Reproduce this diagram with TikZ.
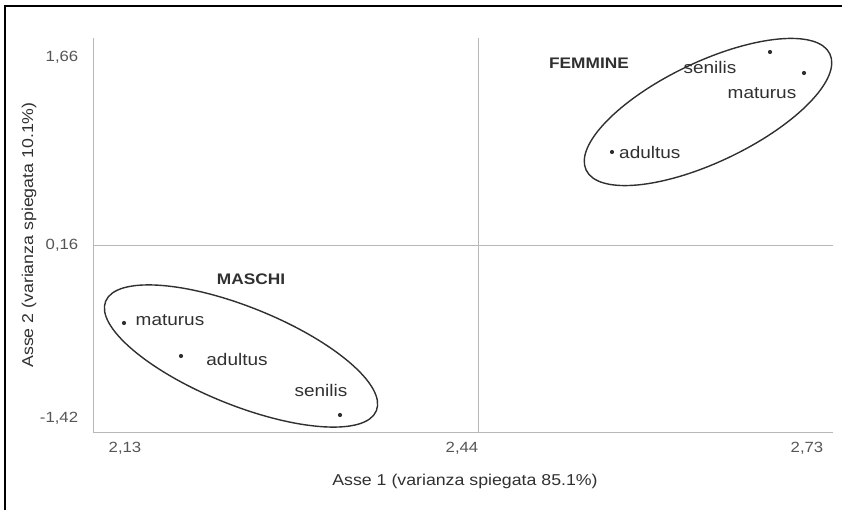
\documentclass[tikz,border=0pt]{standalone}
\usepackage{fontspec}
\setmainfont[FakeStretch=1.13]{Liberation Sans}
\usetikzlibrary{shapes.geometric}
\definecolor{axisgray}{HTML}{B8B8B8}
\definecolor{inkgray}{HTML}{303030}
\definecolor{tickgray}{HTML}{555555}
\begin{document}
\begin{tikzpicture}[x=1pt,y=-1pt,
  axisline/.style={draw=axisgray,line width=1pt},
  grp/.style={draw=inkgray,line width=1.4pt},
  lab/.style={text=inkgray,font=\fontsize{16.8}{19}\selectfont,inner sep=0pt},
  grplab/.style={text=inkgray,font=\fontsize{15.3}{18}\selectfont\bfseries,inner sep=0pt},
  tick/.style={text=tickgray,font=\fontsize{14.8}{17}\selectfont,inner sep=0pt},
  ttl/.style={text=inkgray,font=\fontsize{15.7}{18}\selectfont,inner sep=0pt},
  pt/.style={circle,fill=inkgray,inner sep=0pt,minimum size=4.2pt}]
\useasboundingbox (0,0) rectangle (842,510);
% frame
\draw[line width=1.3pt,black] (842,6) -- (5,6) -- (5,510);
% axes and grid
\coordinate (yt) at (93,38);
\coordinate (yb) at (93,432);
\coordinate (xr) at (833,432);
\coordinate (gt) at (478,38);
\coordinate (gb) at (478,432);
\coordinate (hl) at (93,246);
\coordinate (hr) at (833,246);
\draw[axisline] (yt) -- (yb) -- (xr);
\draw[axisline] (gt) -- (gb);
\draw[axisline] (hl) -- (hr);
% tick labels
\node[tick] (t166) at (62,57) {1,66};
\node[tick] (t016) at (62,245) {0,16};
\node[tick] (t142) at (59,418) {-1,42};
\node[tick] (t213) at (125,448) {2,13};
\node[tick] (t244) at (462,448) {2,44};
\node[tick] (t273) at (807,448) {2,73};
% axis titles
\node[ttl] (xt) at (465,481) {Asse 1 (varianza spiegata 85.1\%)};
\node[ttl,rotate=90] (yttl) at (29,235) {Asse 2 (varianza spiegata 10.1\%)};
% FEMMINE group
\node[grp,ellipse,rotate=25.5,minimum width=270pt,minimum height=100pt] (ef) at (708,112) {};
\node[grplab] (fem) at (589,63) {FEMMINE};
\node[pt] (fs) at (770,52) {};
\node[pt] (fm) at (804,73) {};
\node[pt] (fa) at (612,152) {};
\node[lab] (fsl) at (710,67) {senilis};
\node[lab] (fml) at (762,93) {maturus};
\node[lab,anchor=west] (fal) at (619,152) {adultus};
% MASCHI group
\node[grp,ellipse,rotate=-22,minimum width=292pt,minimum height=98pt] (em) at (241,356) {};
\node[grplab] (mas) at (251,279) {MASCHI};
\node[pt] (mm) at (124,323) {};
\node[pt] (ma) at (181,356) {};
\node[pt] (ms) at (340,415) {};
\node[lab] (mml) at (170,320) {maturus};
\node[lab] (mal) at (237,359) {adultus};
\node[lab] (msl) at (321,390) {senilis};
\end{tikzpicture}
\end{document}
